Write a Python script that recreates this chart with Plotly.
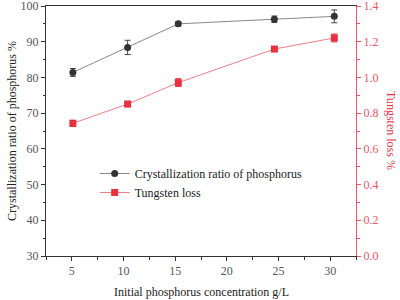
import plotly.graph_objects as go

conc = [5.1, 10.4, 15.3, 24.6, 30.4]
cryst = [81.4, 88.4, 95.0, 96.3, 97.1]
cryst_err = [1.1, 2.0, 0.6, 0.9, 1.8]
tung = [0.743, 0.851, 0.971, 1.159, 1.221]
tung_err = [0.017, 0.015, 0.022, 0.012, 0.022]

RED = "#e8313f"
RED_AX = "#ee5560"
FONT = "Liberation Serif"

L, R, T, B = 46, 44, 6, 44
PW, PH = 400 - L - R, 300 - T - B

fig = go.Figure()
fig.add_trace(go.Scatter(
    x=conc, y=cryst, name="Crystallization ratio of phosphorus",
    mode="lines+markers",
    line=dict(color="#8a8a8a", width=1),
    marker=dict(symbol="circle", size=7, color="#333333"),
    error_y=dict(type="data", array=cryst_err, color="#444444", thickness=1, width=3),
))
fig.add_trace(go.Scatter(
    x=conc, y=tung, name="Tungsten loss", yaxis="y2",
    mode="lines+markers",
    line=dict(color="#f07f88", width=1),
    marker=dict(symbol="square", size=7, color=RED),
    error_y=dict(type="data", array=tung_err, color=RED, thickness=1, width=3),
))

fig.update_layout(
    width=400, height=300,
    margin=dict(l=L, r=R, t=T, b=B, autoexpand=False),
    paper_bgcolor="white", plot_bgcolor="white",
    font=dict(family=FONT, size=12, color="#444444"),
    showlegend=True,
    legend=dict(x=0.157, y=0.388, xanchor="left", yanchor="top",
                bgcolor="rgba(0,0,0,0)", font=dict(size=12, color="#222222"),
                tracegroupgap=0, itemwidth=30),
    xaxis=dict(range=[2.5, 32.5], tickvals=[5, 10, 15, 20, 25, 30], automargin=False,
               showgrid=False, zeroline=False, showline=True, linecolor="#333333",
               linewidth=1, mirror=True, ticks="outside", ticklen=4, tickcolor="#333333",
               minor=dict(dtick=2.5, tick0=0, ticks="outside", ticklen=2.5, tickcolor="#333333"),
               tickfont=dict(size=12, color="#555555")),
    yaxis=dict(range=[30, 100], tickvals=[30, 40, 50, 60, 70, 80, 90, 100], automargin=False,
               ticklabeloverflow="allow",
               showgrid=False, zeroline=False, showline=True, linecolor="#333333",
               linewidth=1, ticks="outside", ticklen=4, tickcolor="#333333",
               minor=dict(dtick=5, tick0=0, ticks="outside", ticklen=2.5, tickcolor="#333333"),
               tickfont=dict(size=12, color="#555555")),
    yaxis2=dict(range=[0, 1.4], tickvals=[0, 0.2, 0.4, 0.6, 0.8, 1.0, 1.2, 1.4],
                ticktext=["0.0", "0.2", "0.4", "0.6", "0.8", "1.0", "1.2", "1.4"],
                overlaying="y", side="right", automargin=False,
                ticklabeloverflow="allow",
                showgrid=False, zeroline=False, showline=True, linecolor=RED_AX,
                linewidth=1, ticks="outside", ticklen=4, tickcolor=RED_AX,
                minor=dict(dtick=0.1, tick0=0, ticks="outside", ticklen=2.5, tickcolor=RED_AX),
                tickfont=dict(size=12, color=RED_AX)),
    annotations=[
        dict(text="Initial phosphorus concentration g/L", xref="paper", yref="paper",
             x=0.5, y=(0 - 36) / PH, xanchor="center", yanchor="middle", showarrow=False,
             font=dict(size=12, color="#222222")),
        dict(text="Crystallization ratio of phosphorus %", xref="paper", yref="paper",
             x=(12 - L) / PW, y=0.5, xanchor="center", yanchor="middle", showarrow=False,
             textangle=-90, font=dict(size=12, color="#222222")),
        dict(text="Tungsten loss %", xref="paper", yref="paper",
             x=(391 - L) / PW, y=0.5, xanchor="center", yanchor="middle", showarrow=False,
             textangle=90, font=dict(size=12, color=RED)),
    ],
)

fig.write_html("out.html", config={"displayModeBar": False},
               post_script="document.body.style.margin='0';document.body.style.overflow='hidden';")
